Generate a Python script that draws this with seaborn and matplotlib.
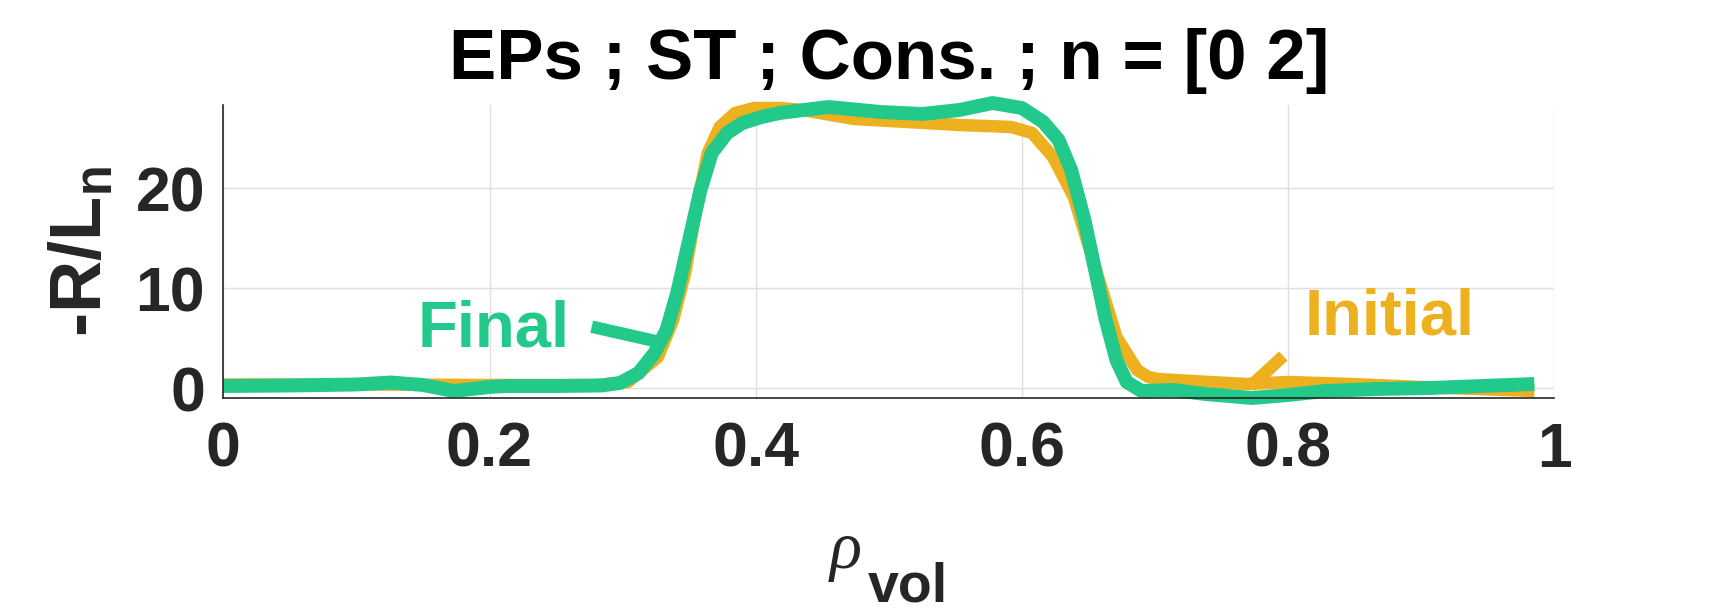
import numpy as np
import pandas as pd
import matplotlib
matplotlib.use("Agg")
import matplotlib.pyplot as plt
import seaborn as sns

# ==========================
# Data
# ==========================

rho_final = [0.0, 0.05, 0.10, 0.126, 0.15, 0.173, 0.2, 0.212, 0.25, 0.284,
             0.298, 0.312, 0.324, 0.333, 0.341, 0.35, 0.3585, 0.367, 0.3785, 0.39,
             0.4045, 0.418, 0.4547, 0.494, 0.525, 0.553, 0.578, 0.600, 0.616, 0.6276,
             0.637, 0.647, 0.655, 0.663, 0.671, 0.6787, 0.690, 0.714, 0.7376, 0.773,
             0.800, 0.828, 0.867, 0.9066, 0.9457, 0.985]
rln_final = [0.2, 0.25, 0.35, 0.55, 0.3, -0.3, 0.1, 0.2, 0.2, 0.25,
             0.5, 1.5, 3.5, 5.8, 9.5, 14.8, 19.8, 23.5, 25.5, 26.5,
             27.1, 27.5, 28.1, 27.6, 27.4, 27.8, 28.5, 28.0, 26.6, 24.8,
             21.8, 16.8, 11.8, 6.8, 2.8, 0.6, -0.3, -0.2, -0.6, -1.0,
             -0.7, -0.3, -0.1, 0.0, 0.2, 0.4]

rho_init = [0.0, 0.1, 0.2, 0.28, 0.304, 0.3266, 0.338, 0.347, 0.3556, 0.364,
            0.373, 0.3845, 0.3987, 0.418, 0.435, 0.474, 0.514, 0.553, 0.592, 0.6077,
            0.6234, 0.639, 0.655, 0.671, 0.6866, 0.695, 0.702, 0.741, 0.769, 0.80,
            0.847, 0.9, 0.985]
rln_init = [0.35, 0.35, 0.3, 0.3, 0.6, 3.1, 6.8, 11.5, 18.1, 23.5,
            26.1, 27.5, 28.0, 28.0, 27.8, 26.9, 26.6, 26.3, 26.1, 25.5,
            23.1, 19.1, 12.1, 5.1, 1.8, 1.1, 0.9, 0.6, 0.4, 0.6,
            0.4, 0.1, -0.3]

x_ticks = [0, 0.2, 0.4, 0.6, 0.8, 1]
x_ticklabels = ["0", "0.2", "0.4", "0.6", "0.8", "1"]
y_ticks = [0, 10, 20]

green = "#22C98A"
orange = "#EDB120"
dark = "#262626"

df_final = pd.DataFrame({"rho": rho_final, "rln": rln_final})
df_init = pd.DataFrame({"rho": rho_init, "rln": rln_init})

# ==========================
# Style
# ==========================

sns.set_style("whitegrid")
plt.rcParams["font.family"] = ["Liberation Sans", "DejaVu Sans"]
plt.rcParams["font.weight"] = "bold"
plt.rcParams["mathtext.fontset"] = "custom"
plt.rcParams["mathtext.rm"] = "Liberation Sans:bold"
plt.rcParams["mathtext.bf"] = "Liberation Sans:bold"
plt.rcParams["mathtext.it"] = "Liberation Sans:italic"

W, H = 1718, 614
fig = plt.figure(figsize=(W / 100, H / 100), dpi=100)
ax = fig.add_axes([223.3 / W, 1 - 398.3 / H, 1331 / W, 293.3 / H])

# ==========================
# Lines
# ==========================

sns.lineplot(data=df_init, x="rho", y="rln", ax=ax, color=orange, lw=9,
             sort=False, estimator=None, clip_on=False,
             solid_joinstyle="round", solid_capstyle="butt")
sns.lineplot(data=df_final, x="rho", y="rln", ax=ax, color=green, lw=10,
             sort=False, estimator=None, clip_on=False,
             solid_joinstyle="round", solid_capstyle="butt")

ax.set_xlim(0, 1)
ax.set_ylim(-1.03, 28.3)
ax.set_xticks(x_ticks)
ax.set_xticklabels(x_ticklabels)
ax.set_yticks(y_ticks)

ax.grid(True, color="#dfdfdf", lw=1)
for s in ["top", "right"]:
    ax.spines[s].set_visible(False)
for s in ["left", "bottom"]:
    ax.spines[s].set_color(dark)
    ax.spines[s].set_linewidth(1.2)

ax.tick_params(axis="both", direction="in", length=9.5, width=1, color=dark,
               labelcolor=dark, labelsize=45)
ax.tick_params(axis="x", pad=16)
ax.tick_params(axis="y", pad=13)
for lab in ax.get_xticklabels() + ax.get_yticklabels():
    lab.set_fontweight("bold")

ax.set_xlabel("")
ax.set_ylabel(r"-R/L$_{\mathbf{n}}$", fontsize=52, fontweight="bold", color=dark, labelpad=14)
ax.set_title("EPs ; ST ; Cons. ; n = [0 2]", fontsize=51, fontweight="bold",
             color="black", pad=18.5)

# x label: rho with bold subscript
fig.text(830 / W, 1 - 568 / H, "\u03c1", fontsize=48, fontstyle="italic",
         fontweight="normal", color=dark, ha="left", va="baseline",
         family=["Liberation Serif", "DejaVu Serif"])
fig.text(868 / W, 1 - 602 / H, "vol", fontsize=40, fontweight="bold",
         color=dark, ha="left", va="baseline")

# ==========================
# Annotations
# ==========================

ax.annotate("", xy=(0.3243, 4.7), xytext=(0.2768, 6.13),
            arrowprops=dict(arrowstyle="-", color=green, lw=9, shrinkA=0, shrinkB=0,
                            capstyle="butt"),
            annotation_clip=False)
ax.text(0.2604, 5.9, "Final", fontsize=47, fontweight="bold", color=green,
        ha="right", va="center")

ax.annotate("", xy=(0.7714, 0.13), xytext=(0.7964, 3.2),
            arrowprops=dict(arrowstyle="-", color=orange, lw=9, shrinkA=0, shrinkB=0,
                            capstyle="butt"),
            annotation_clip=False)
ax.text(0.8127, 7.05, "Initial", fontsize=47, fontweight="bold", color=orange,
        ha="left", va="center")

plt.savefig("out.png", dpi=100)
